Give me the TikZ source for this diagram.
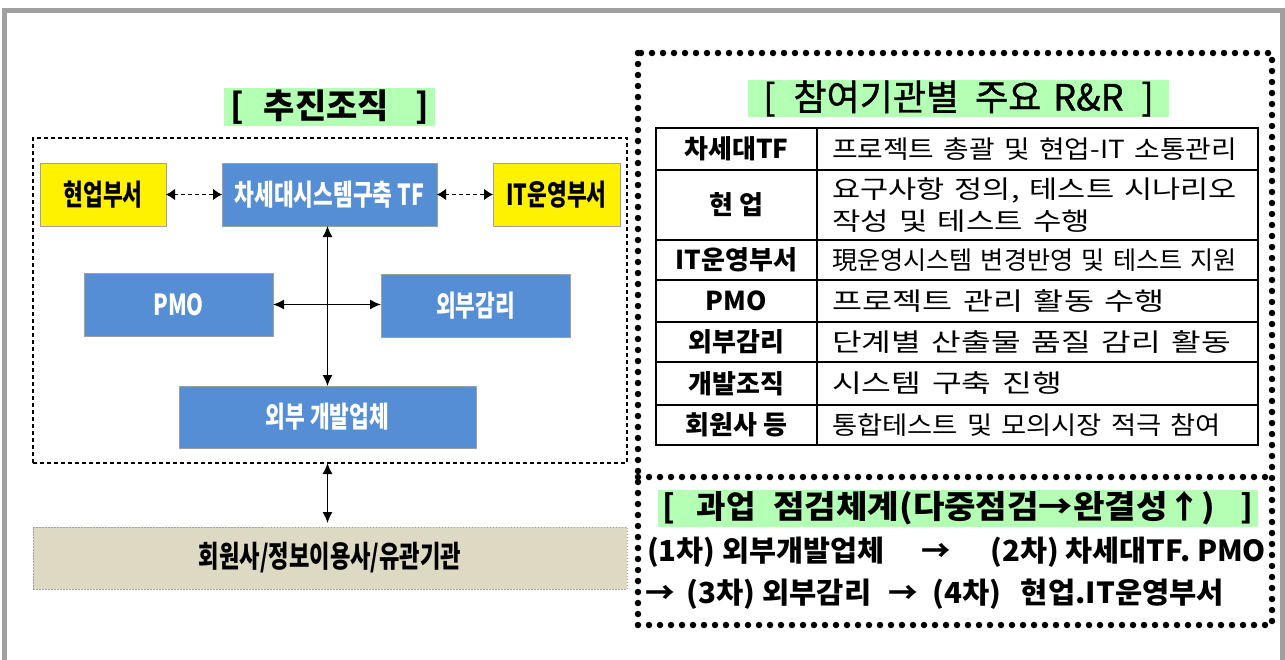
\documentclass[tikz,border=0pt]{standalone}
\usepackage{fontspec}
\usepackage{graphicx}
\setmainfont{Noto Sans CJK KR}
\newfontfamily\narrowfont[FakeStretch=0.74]{Noto Sans CJK KR}
\newfontfamily\tablefont[WordSpace=3]{Noto Sans CJK KR}
\newfontfamily\medfont[FakeBold=1.2]{Noto Sans CJK KR}
\usetikzlibrary{arrows.meta}
\definecolor{BoxBlue}{HTML}{558ED5}
\definecolor{TitleGreen}{HTML}{B3FFB3}
\definecolor{Tan}{HTML}{DDD9C3}
\definecolor{FrameGray}{HTML}{A0A0A0}
\newcommand{\fitw}[2]{\resizebox{#1pt}{\height}{#2}}

\begin{document}
\begin{tikzpicture}[x=1pt, y=-1pt, >={Latex[length=11pt,width=10pt]},
      every node/.append style={inner sep=0pt, outer sep=0pt},
      bluebox/.style={draw=FrameGray, line width=0.8pt, fill=BoxBlue, text=white, font=\narrowfont\bfseries\fontsize{29}{31}\selectfont},
      dept/.style={bluebox, fill=yellow, text=black},
      heading/.style={fill=TitleGreen, font=\bfseries\fontsize{34}{36}\selectfont},
      role/.style={draw, line width=2.4pt, minimum width=161pt, font=\bfseries\fontsize{26}{28}\selectfont},
      task/.style={draw, line width=2.4pt, minimum width=441pt, text width=411pt, align=left, font=\tablefont\fontsize{25}{32}\selectfont},
      chkline/.style={anchor=west, font=\bfseries\fontsize{29}{31}\selectfont},
      dotframe/.style={line width=6.5pt, line cap=round, dash pattern=on 0pt off 11pt},
      link/.style={<->, line width=1.3pt},
      dashlink/.style={{Latex[length=9pt,width=12pt]}-{Latex[length=9pt,width=12pt]}, line width=1.8pt, dash pattern=on 4pt off 3pt}]
    \useasboundingbox (0,0) rectangle (1285,659);
    \draw[FrameGray, line width=5pt] (4.5,670) |- (1282.5,10.5) -- (1282.5,670);

    % left: organisation
    \node[heading, minimum width=211pt, minimum height=38pt] (orgtitle) at (329.5,107) {[\hspace{20pt}추진조직\hspace{26pt}]};
    \node[draw, line width=1.2pt, dash pattern=on 4pt off 3pt, minimum width=594pt, minimum height=325pt] (org) at (330,300.5) {};
    \node[dept, minimum width=126pt, minimum height=63pt] (bizdept) at (103,194.5) {현업부서};
    \node[bluebox, minimum width=215pt, minimum height=63pt] (tf) at (329.5,194.5) {차세대시스템구축 TF};
    \node[dept, minimum width=127pt, minimum height=63pt] (itdept) at (556.5,194.5) {IT운영부서};
    \node[bluebox, minimum width=189pt, minimum height=63pt] (pmo) at (178.5,304.5) {PMO};
    \node[bluebox, minimum width=189pt, minimum height=63pt] (audit) at (475.5,305.5) {외부감리};
    \node[bluebox, minimum width=297pt, minimum height=62pt] (vendor) at (327.5,417) {외부 개발업체};
    \node[draw=FrameGray, line width=1pt, dash pattern=on 1.5pt off 1.5pt, fill=Tan, minimum width=594pt, minimum height=62pt,
          font=\narrowfont\bfseries\fontsize{30}{32}\selectfont] (members) at (330,558) {회원사/정보이용사/유관기관};

    \draw[dashlink] (bizdept) -- (tf);
    \draw[dashlink] (tf) -- (itdept);
    \draw[link] (tf.south -| vendor.north) -- (vendor.north);
    \draw[link] (pmo.east) -- (pmo.east -| audit.west);
    \draw[link, shorten >=4pt] (org.south -| vendor.north) -- (members.north -| vendor.north);

    % right: roles and checks
    \draw[dotframe] (638,53) rectangle (1272,625);
    \draw[dotframe] (638,477) -- (1272,477);
    \node[heading, font=\medfont\fontsize{36}{38}\selectfont, minimum width=421pt, minimum height=37pt] (rrtitle) at (958.5,98.5)
      {[\hspace{18pt}참여기관별\hspace{16pt}주요\hspace{12pt}R\&R\hspace{18pt}]};
    \foreach [count=\i] \ya/\yb/\who/\what in {
        128/170/{차세대TF}/{\fitw{405}{프로젝트 총괄 및 현업-IT 소통관리}},
        170/240/{현 업}/{\fitw{405}{요구사항 정의, 테스트 시나리오}\\\fitw{258}{작성 및 테스트 수행}},
        240/280/{IT운영부서}/{\fitw{405}{現운영시스템 변경반영 및 테스트 지원}},
        280/322/{PMO}/{\fitw{333}{프로젝트 관리 활동 수행}},
        322/362/{외부감리}/{\fitw{399}{단계별 산출물 품질 감리 활동}},
        362/405/{개발조직}/{\fitw{230}{시스템 구축 진행}},
        405/445/{회원사 등}/{\fitw{389}{통합테스트 및 모의시장 적극 참여}}} {
      \node[role, minimum height={(\yb-\ya)*1pt}] (role\i) at (736.5,{(\ya+\yb)/2}) {\who};
      \node[task, minimum height={(\yb-\ya)*1pt}] (task\i) at (1037.5,{(\ya+\yb)/2}) {\what};
    }
    \node[heading, font=\bfseries\fontsize{32}{34}\selectfont, minimum width=600pt, minimum height=37pt] (chktitle) at (958,508.5)
      {[\hspace{21pt}과업\hspace{18pt}\fitw{442}{점검체계(다중점검→완결성↑)}\hspace{25pt}]};
    \node[chkline] (step1) at (647,552) {\fitw{619}{(1차) 외부개발업체\hspace{37pt}→\hspace{39pt}(2차) 차세대TF. PMO}};
    \node[chkline] (step2) at (645,594) {\fitw{579}{→\hspace{12pt}(3차) 외부감리\hspace{17pt}→\hspace{14pt}(4차)\hspace{19pt}현업.IT운영부서}};
\end{tikzpicture}
\end{document}
